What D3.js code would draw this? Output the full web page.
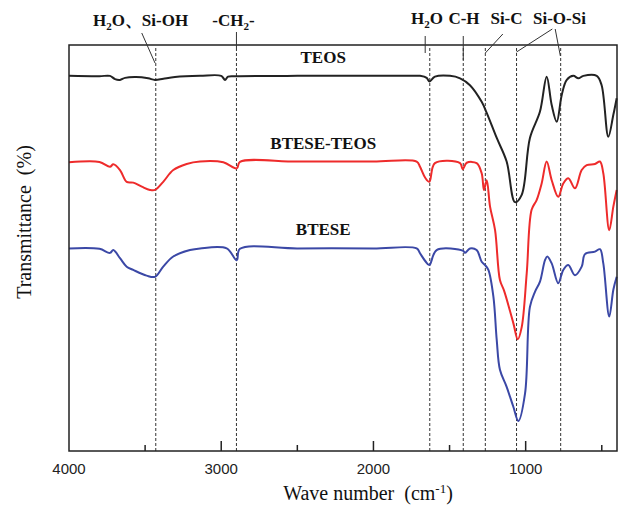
<!DOCTYPE html>
<html lang="en">
<head>
  <meta charset="utf-8">
  <title>FTIR spectra</title>
  <style>
body {
  margin: 0;
  background-color: #fff;
}
.tick-label {
  font-family: "Liberation Sans", Arial, sans-serif;
  font-size: 15px;
  fill: #222;
}
.serif {
  font-family: "Times New Roman", "Liberation Serif", serif;
  fill: #111;
  white-space: pre;
}
.bold {
  font-weight: bold;
  font-size: 17px;
}
  </style>
  <script src="https://cdn.jsdelivr.net/npm/d3@7"></script>
</head>
<body>
<div id="chart"></div>

<script>

// wavenumber (cm-1) and transmittance for each sample
var teosWn = [4000, 3800, 3731, 3698, 3665, 3632, 3560, 3480, 3435, 3380, 3304, 3139, 3000, 2975, 2955, 2900, 2500, 2000, 1716, 1694, 1650, 1633, 1596, 1497, 1431, 1366, 1289, 1256, 1190, 1125, 1070, 1026, 972, 906, 862, 829, 796, 763, 730, 687, 654, 621, 533, 501, 457, 424, 402];
var teosT  = [92.4, 92.3, 92.4, 91.6, 91.4, 91.9, 92.1, 91.8, 91.4, 91.7, 92.1, 92.4, 92.4, 91.4, 92.2, 92.3, 92.4, 92.4, 92.4, 92.4, 91.9, 91.0, 92.2, 92.4, 91.8, 90.1, 86.0, 83.3, 77.1, 71.3, 61.3, 63.1, 77.1, 83.6, 92.2, 85.2, 81.1, 87.7, 91.4, 92.4, 91.8, 92.4, 92.4, 90.1, 77.4, 82.8, 86.9];

var mixWn = [4000, 3800, 3731, 3709, 3665, 3621, 3578, 3522, 3468, 3435, 3381, 3315, 3227, 3139, 2986, 2898, 2877, 2500, 2000, 1716, 1694, 1660, 1633, 1596, 1431, 1414, 1387, 1322, 1289, 1274, 1256, 1234, 1201, 1169, 1142, 1081, 1052, 1026, 993, 961, 928, 895, 862, 829, 786, 753, 720, 676, 632, 599, 545, 512, 490, 451, 424, 402];
var mixT  = [71.1, 71.2, 70.0, 70.6, 69.2, 66.3, 66.1, 65.1, 64.3, 64.3, 66.3, 69.2, 70.7, 71.3, 71.1, 69.6, 71.2, 71.3, 71.3, 71.3, 70.0, 67.3, 66.3, 70.9, 70.9, 69.4, 71.0, 70.9, 68.4, 64.3, 66.7, 60.2, 54.4, 42.1, 39.5, 31.5, 27.5, 30.5, 43.8, 59.4, 61.8, 65.9, 71.3, 66.7, 62.6, 65.9, 67.2, 64.7, 69.2, 70.4, 70.7, 71.3, 68.4, 54.4, 60.2, 64.3];

var bteseWn = [4000, 3800, 3731, 3709, 3665, 3621, 3578, 3490, 3435, 3381, 3315, 3205, 3139, 2964, 2898, 2877, 2500, 2000, 1716, 1694, 1660, 1633, 1585, 1410, 1399, 1366, 1322, 1289, 1267, 1245, 1212, 1190, 1169, 1125, 1081, 1048, 1004, 972, 939, 906, 873, 858, 829, 786, 753, 720, 676, 632, 610, 545, 512, 490, 451, 424, 402];
var bteseT  = [49.9, 49.8, 48.8, 49.5, 47.5, 45.4, 44.6, 43.2, 42.9, 45.4, 47.9, 49.5, 49.9, 49.9, 47.0, 49.8, 49.9, 49.9, 49.9, 48.7, 46.8, 45.8, 49.5, 49.3, 48.8, 49.9, 49.5, 46.6, 45.8, 44.6, 38.0, 27.3, 20.0, 15.8, 10.9, 7.4, 14.2, 35.5, 39.2, 41.7, 47.0, 47.9, 46.2, 41.3, 44.6, 45.8, 43.3, 45.4, 48.5, 49.1, 49.7, 46.2, 33.1, 39.7, 42.9];

var seriesNames = ['TEOS', 'BTESE-TEOS', 'BTESE'];
var seriesColors = ['#222222', '#ee2b2b', '#3b48a6'];

// band positions (dashed lines)
var bandWn = [3430, 2900, 1630, 1410, 1265, 1060, 770];

var majorTicks = [4000, 3000, 2000, 1000];
var minorTicks = [3500, 2500, 1500, 500];

var w = 621, h = 511;
var mLeft = 69, mRight = 617, mTop = 45, mBottom = 451;

var svg = d3.select('#chart').append('svg')
  .attr('width', w)
  .attr('height', h);

var x = d3.scaleLinear().domain([4000, 400]).range([mLeft, mRight]);
var y = d3.scaleLinear().domain([0, 100]).range([mBottom, mTop]);

// dashed band lines
svg.selectAll('line.band')
  .data(bandWn)
  .enter().append('line')
  .attr('class', 'band')
  .attr('x1', function(d) { return x(d); })
  .attr('x2', function(d) { return x(d); })
  .attr('y1', 48)
  .attr('y2', mBottom)
  .attr('stroke', '#333')
  .attr('stroke-width', 1)
  .attr('stroke-dasharray', '3,2');

// spectra
var line = d3.line()
  .x(function(d) { return x(d[0]); })
  .y(function(d) { return y(d[1]); })
  .curve(d3.curveCatmullRom.alpha(0.5));

var series = [d3.zip(teosWn, teosT), d3.zip(mixWn, mixT), d3.zip(bteseWn, bteseT)];

svg.selectAll('path.spec')
  .data(series)
  .enter().append('path')
  .attr('class', 'spec')
  .attr('d', line)
  .attr('fill', 'none')
  .attr('stroke', function(d, i) { return seriesColors[i]; })
  .attr('stroke-width', 2)
  .attr('stroke-linejoin', 'round');

// series labels just above each baseline
svg.selectAll('text.name')
  .data(series)
  .enter().append('text')
  .attr('class', 'name serif bold')
  .attr('x', x(2330))
  .attr('y', function(d) { return y(d[0][1]) - 13; })
  .attr('text-anchor', 'middle')
  .text(function(d, i) { return seriesNames[i]; });

// frame
svg.append('rect')
  .attr('x', mLeft)
  .attr('y', mTop)
  .attr('width', mRight - mLeft)
  .attr('height', mBottom - mTop)
  .attr('fill', 'none')
  .attr('stroke', '#222')
  .attr('stroke-width', 1.5);

// ticks (inside)
svg.selectAll('line.major')
  .data(majorTicks.slice(1))
  .enter().append('line')
  .attr('class', 'major')
  .attr('x1', function(d) { return x(d); })
  .attr('x2', function(d) { return x(d); })
  .attr('y1', mBottom)
  .attr('y2', mBottom - 10)
  .attr('stroke', '#222')
  .attr('stroke-width', 1.5);

svg.selectAll('line.minor')
  .data(minorTicks)
  .enter().append('line')
  .attr('class', 'minor')
  .attr('x1', function(d) { return x(d); })
  .attr('x2', function(d) { return x(d); })
  .attr('y1', mBottom)
  .attr('y2', mBottom - 6)
  .attr('stroke', '#222')
  .attr('stroke-width', 1.5);

svg.selectAll('text.tick-label')
  .data(majorTicks)
  .enter().append('text')
  .attr('class', 'tick-label')
  .attr('x', function(d) { return x(d); })
  .attr('y', mBottom + 23)
  .attr('text-anchor', 'middle')
  .text(function(d) { return d; });

// axis titles
var xt = svg.append('text')
  .attr('class', 'serif')
  .attr('x', 368)
  .attr('y', 500)
  .attr('text-anchor', 'middle')
  .style('font-size', '20px');
xt.append('tspan').text('Wave number  (cm');
xt.append('tspan').attr('dy', -7).style('font-size', '13px').text('-1');
xt.append('tspan').attr('dy', 7).text(')');

svg.append('text')
  .attr('class', 'serif')
  .attr('transform', 'translate(31,222) rotate(-90)')
  .attr('text-anchor', 'middle')
  .style('font-size', '20px')
  .text('Transmittance  (%)');

// band annotations
function sub(t, parts) {
  parts.forEach(function(p) {
    var s = t.append('tspan').text(p[0]);
    if (p[1] === 'sub') s.attr('dy', 4).style('font-size', '11px');
    if (p[1] === 'up') s.attr('dy', -4);
  });
}

var ann = [
  {wn: 3530, y: 26, parts: [['H'], ['2', 'sub'], ['O、Si-OH', 'up']]},
  {wn: 2920, y: 26, parts: [['-CH'], ['2', 'sub'], ['-', 'up']]},
  {wn: 1648, y: 24, parts: [['H'], ['2', 'sub'], ['O', 'up']]},
  {wn: 1405, y: 24, parts: [['C-H']]},
  {wn: 1126, y: 24, parts: [['Si-C']]},
  {wn: 778, y: 24, parts: [['Si-O-Si']]}
];

ann.forEach(function(a) {
  var t = svg.append('text')
    .attr('class', 'serif bold')
    .attr('x', x(a.wn))
    .attr('y', a.y)
    .attr('text-anchor', 'middle');
  sub(t, a.parts);
});

var leaders = [
  [3522, 33, 3435, 63],
  [2900, 32, 2900, 48],
  [1660, 36, 1660, 53],
  [1410, 36, 1410, 60],
  [1150, 34, 1265, 53],
  [825, 29, 1060, 52],
  [806, 29, 772, 56]
];

svg.selectAll('line.leader')
  .data(leaders)
  .enter().append('line')
  .attr('class', 'leader')
  .attr('x1', function(d) { return x(d[0]); })
  .attr('y1', function(d) { return d[1]; })
  .attr('x2', function(d) { return x(d[2]); })
  .attr('y2', function(d) { return d[3]; })
  .attr('stroke', '#333')
  .attr('stroke-width', 1);

</script>
</body>
</html>
